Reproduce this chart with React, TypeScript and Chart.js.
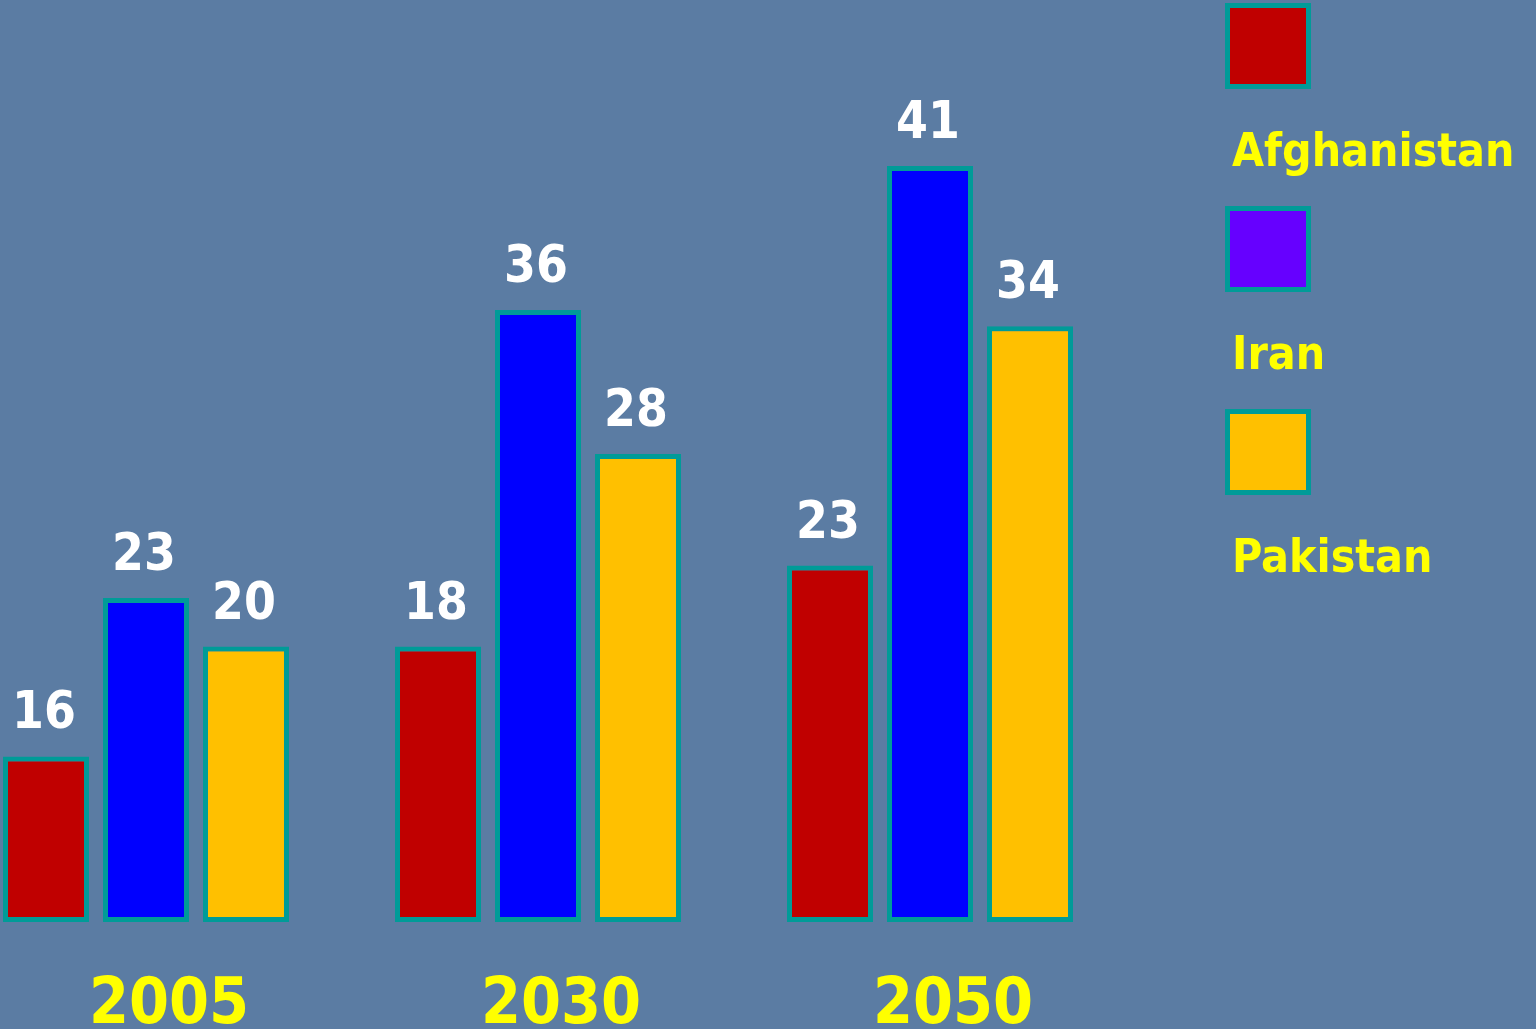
import React, { useEffect, useRef } from "react";
import { Chart, registerables } from "chart.js";

Chart.register(...registerables);

// ---- data ----
const years = ["2005", "2030", "2050"];
const seriesNames = ["Afghanistan", "Iran", "Pakistan"];
// bar heights as drawn in the picture
const afghanistanBars = [9.2, 15.3, 19.8];
const iranBars = [18.0, 34.0, 42.0];
const pakistanBars = [15.3, 26.0, 33.1];
// value labels printed above the bars
const afghanistanLabels = [16, 18, 23];
const iranLabels = [23, 36, 41];
const pakistanLabels = [20, 28, 34];

// ---- styles ----
const barColors = ["#c00000", "#0000ff", "#ffc000"];
const legendColors = ["#c00000", "#6600ff", "#ffc000"];
const BORDER = "#009b98";
const BG = "#5b7ca3";
const YELLOW = "#ffff00";
const FONT = '"DejaVu Sans Condensed", "DejaVu Sans", sans-serif';

const backgroundPlugin = {
  id: "bg",
  beforeDraw(chart: any) {
    const { ctx, width, height } = chart;
    ctx.save();
    ctx.fillStyle = BG;
    ctx.fillRect(0, 0, width, height);
    ctx.restore();
  },
};

const valueLabelPlugin = {
  id: "valueLabels",
  afterDatasetsDraw(chart: any) {
    const { ctx } = chart;
    ctx.save();
    ctx.font = `bold 51px ${FONT}`;
    ctx.fillStyle = "#ffffff";
    ctx.textAlign = "center";
    ctx.textBaseline = "alphabetic";
    chart.data.datasets.forEach((ds: any, di: number) => {
      const meta = chart.getDatasetMeta(di);
      meta.data.forEach((bar: any, i: number) => {
        ctx.fillText(String(ds.valueLabels[i]), bar.x - 2, bar.y - 28);
      });
    });
    ctx.restore();
  },
};

const legendPlugin = {
  id: "customLegend",
  afterDraw(chart: any) {
    const { ctx } = chart;
    const x0 = 1225;
    const size = 86;
    const step = 203;
    ctx.save();
    seriesNames.forEach((name, i) => {
      const top = 3 + i * step;
      ctx.fillStyle = BORDER;
      ctx.fillRect(x0, top, size, size);
      ctx.fillStyle = legendColors[i];
      ctx.fillRect(x0 + 5, top + 5, size - 10, size - 10);
      ctx.font = `bold 46px ${FONT}`;
      ctx.fillStyle = YELLOW;
      ctx.textAlign = "left";
      ctx.textBaseline = "alphabetic";
      ctx.fillText(name, 1232, top + 163);
    });
    ctx.restore();
  },
};

export default function App() {
  const ref = useRef<HTMLCanvasElement | null>(null);

  useEffect(() => {
    if (!ref.current) return;
    const seriesBars = [afghanistanBars, iranBars, pakistanBars];
    const seriesLabels = [afghanistanLabels, iranLabels, pakistanLabels];
    const chart = new Chart(ref.current, {
      type: "bar",
      data: {
        labels: years,
        datasets: seriesNames.map((name, i) => ({
          label: name,
          data: seriesBars[i],
          valueLabels: seriesLabels[i],
          backgroundColor: barColors[i],
          borderColor: BORDER,
          borderWidth: 5,
          borderSkipped: false,
          categoryPercentage: 0.7653,
          barPercentage: 0.86,
          clip: false,
        })) as any,
      },
      options: {
        animation: false,
        responsive: false,
        devicePixelRatio: 1,
        layout: { padding: { left: 146, right: 1536 - 930, top: 22, bottom: 0 } },
        plugins: {
          legend: { display: false },
          tooltip: { enabled: false },
          title: { display: false },
        },
        scales: {
          x: {
            type: "category",
            offset: false,
            grid: { display: false, drawTicks: false },
            border: { display: false },
            ticks: {
              color: YELLOW,
              font: { family: FONT, size: 64, weight: "bold", lineHeight: 1 },
              padding: 52,
              labelOffset: 23,
              autoSkip: false,
              maxRotation: 0,
            },
            afterFit: (s: any) => {
              s.height = 107;
              s.paddingLeft = 0;
              s.paddingRight = 0;
            },
          },
          y: {
            display: false,
            min: 0,
            max: 50,
          },
        },
      } as any,
      plugins: [backgroundPlugin, valueLabelPlugin, legendPlugin],
    });
    return () => chart.destroy();
  }, []);

  return (
    <div
      style={{
        position: "fixed",
        left: 0,
        top: 0,
        width: 1536,
        height: 1029,
        background: BG,
        overflow: "hidden",
      }}
    >
      <canvas ref={ref} width={1536} height={1029} style={{ display: "block" }} />
    </div>
  );
}
